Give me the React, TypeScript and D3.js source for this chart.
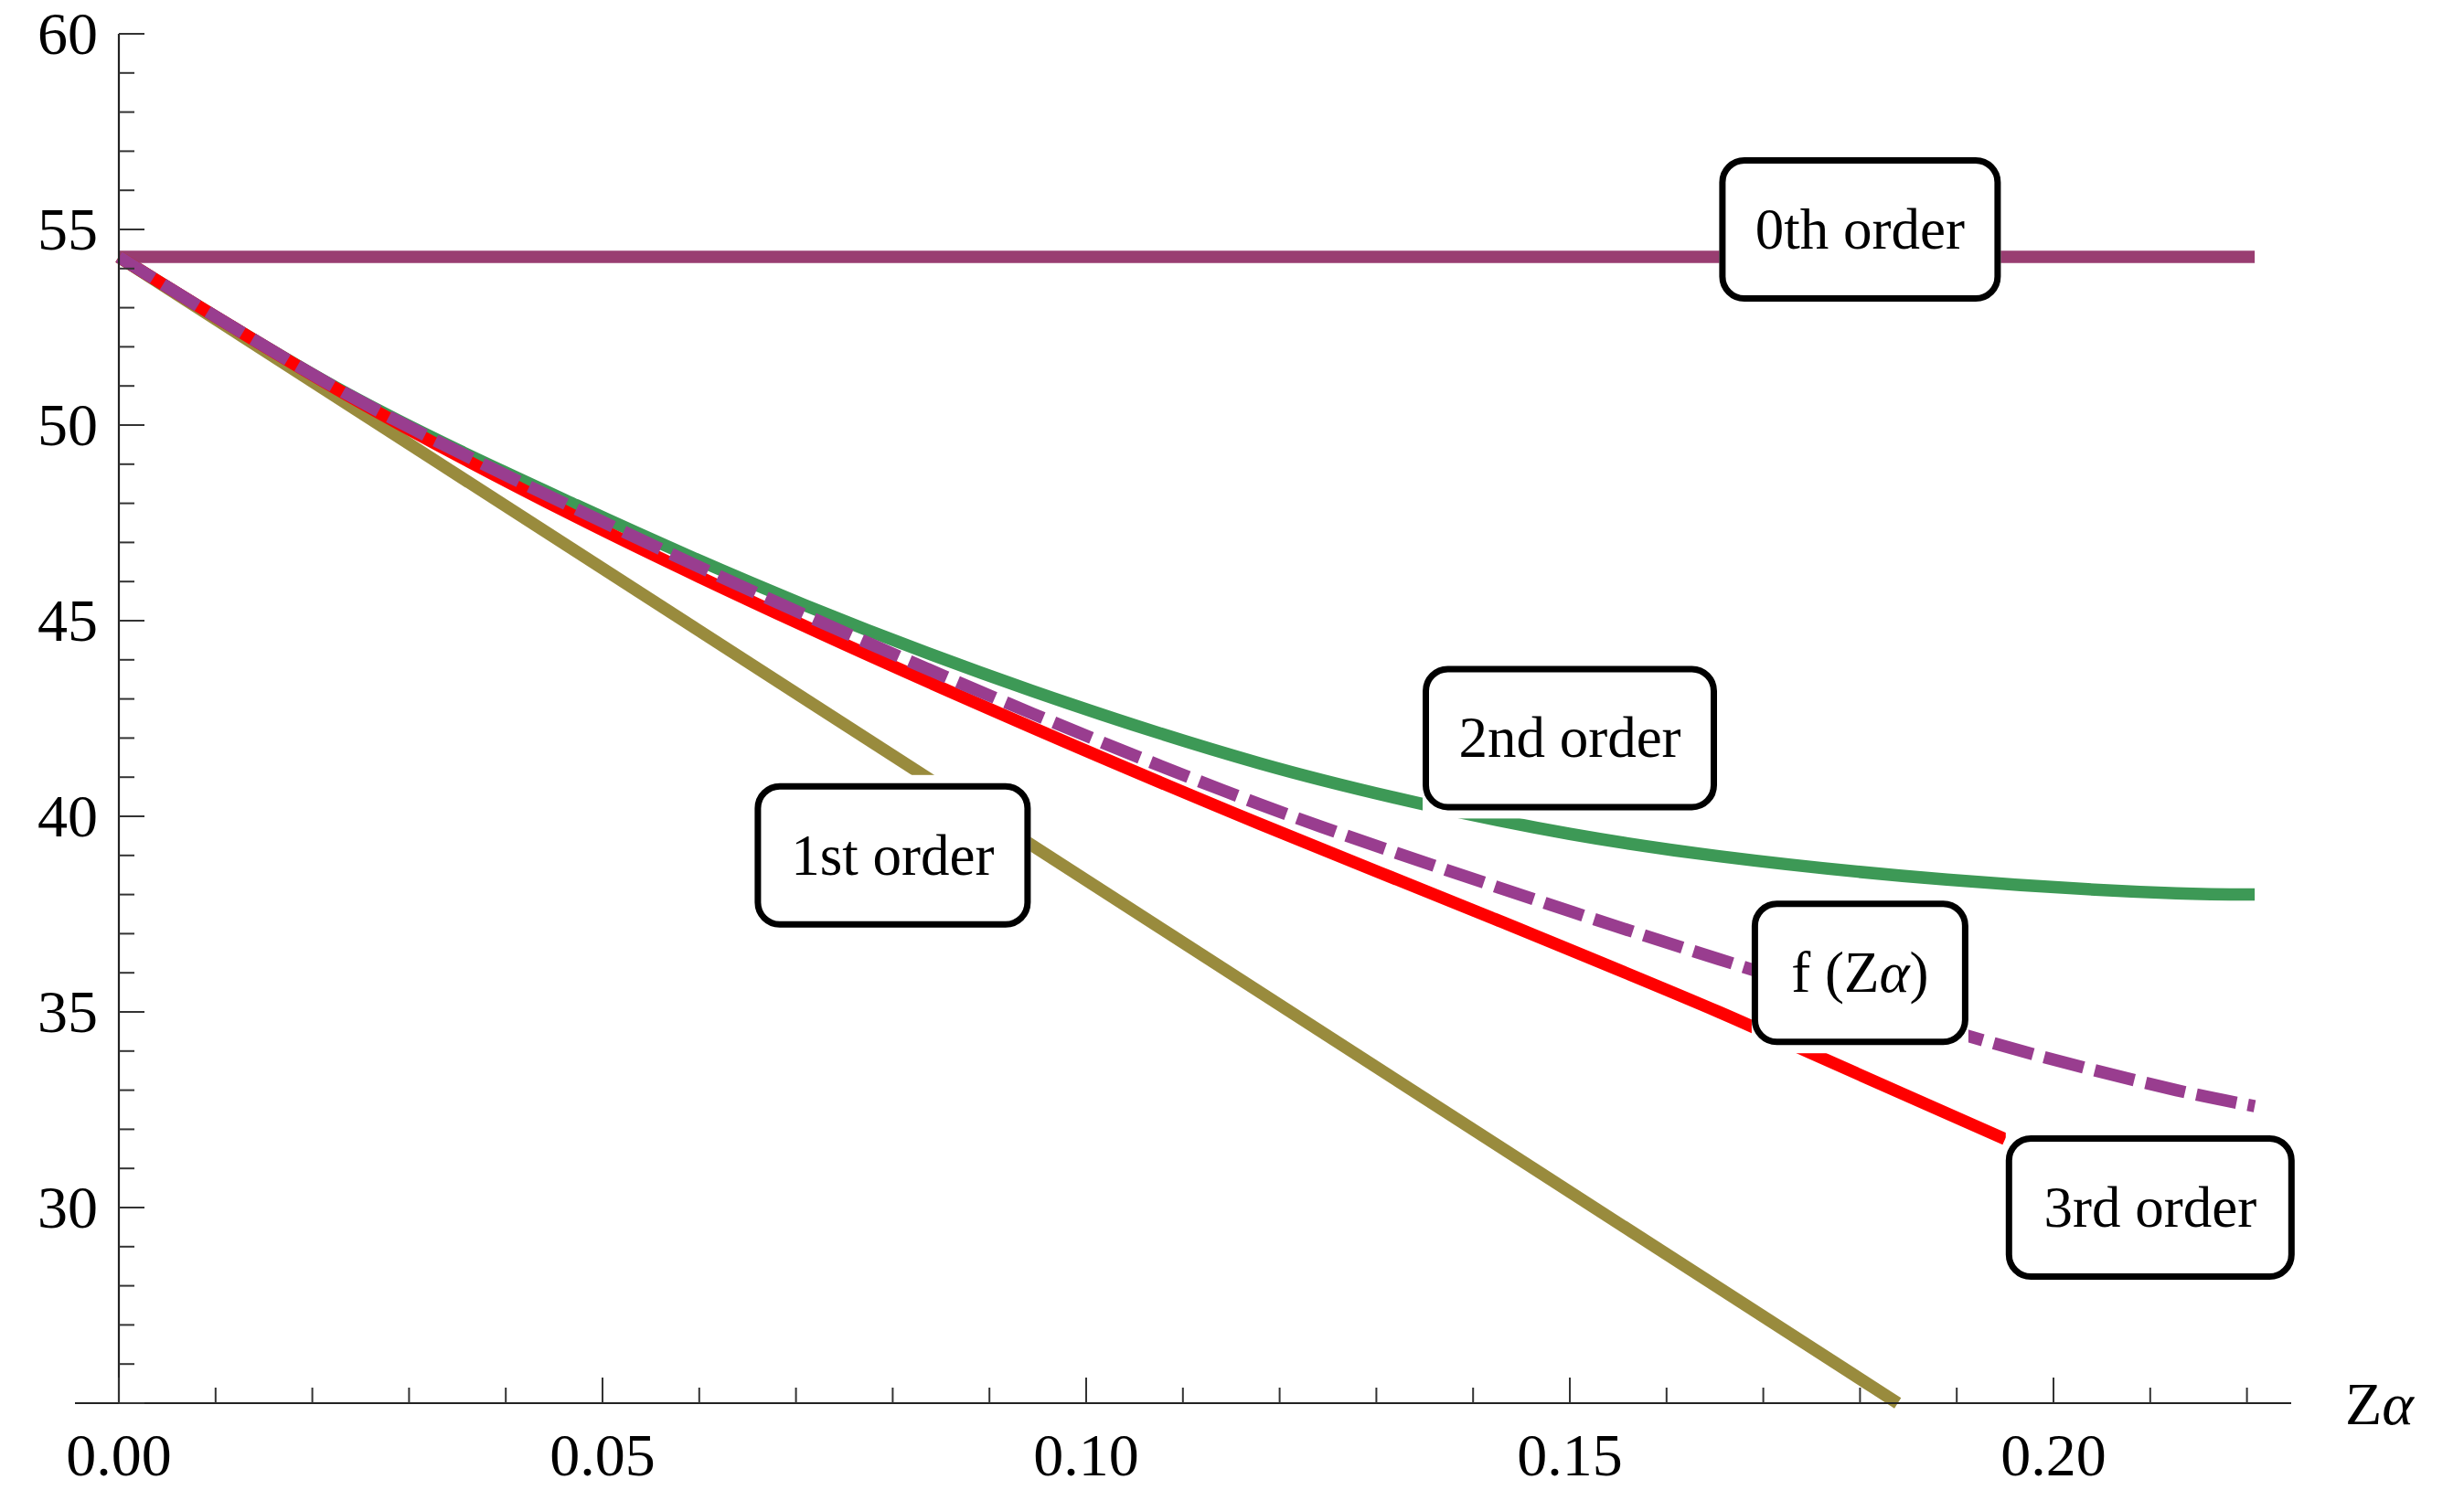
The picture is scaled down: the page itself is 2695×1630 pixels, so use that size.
import React from "react";
import * as d3 from "d3";

// ---- data ----
const zerothOrder: [number, number][] = [[0, 54.3], [0.2208, 54.3]];
const firstOrder: [number, number][] = [[0, 54.3], [0.1839, 25.0]];
const secondOrder: [number, number][] = [
  [0, 54.3], [0.0236, 50.8], [0.0473, 47.95], [0.0709, 45.4], [0.0945, 43.2],
  [0.118, 41.35], [0.135, 40.3], [0.15, 39.55], [0.1654, 38.98], [0.189, 38.38],
  [0.2127, 38.03], [0.2208, 38.0],
];
const thirdOrder: [number, number][] = [
  [0, 54.3], [0.0236, 50.77], [0.0473, 47.65], [0.0709, 44.86], [0.0945, 42.26],
  [0.118, 39.8], [0.1418, 37.42], [0.1654, 35.0], [0.1749, 33.95], [0.195, 31.75],
];
const exactF: [number, number][] = [
  [0, 54.3], [0.0236, 50.79], [0.0473, 47.85], [0.0709, 45.15], [0.0945, 42.62],
  [0.118, 40.3], [0.1418, 38.25], [0.1654, 36.35], [0.1938, 34.2], [0.2127, 33.0],
  [0.2208, 32.59],
];

const xMajorTicks = [0, 0.05, 0.1, 0.15, 0.2];
const xTickLabels = ["0.00", "0.05", "0.10", "0.15", "0.20"];
const yMajorTicks = [25, 30, 35, 40, 45, 50, 55, 60];
const yTickLabels = ["", "30", "35", "40", "45", "50", "55", "60"];

// labels: text, anchor (data coords), box width
const labelTexts = ["0th order", "1st order", "2nd order", "f (Z\u03B1)", "3rd order"];
const labelAnchorX = [0.18, 0.08, 0.15, 0.18, 0.21];
const labelAnchorY = [55, 39, 42, 36, 30];
const labelWidths = [308, 302, 322, 237, 316];

const W = 2695;
const H = 1630;
const FONT = "'Liberation Serif', 'Times New Roman', serif";

export default function App() {
  const x = d3.scaleLinear().domain([0, 0.2]).range([130, 2246]);
  const y = d3.scaleLinear().domain([25, 60]).range([1535, 37]);

  const curve = d3
    .line<[number, number]>()
    .x((d) => x(d[0]))
    .y((d) => y(d[1]))
    .curve(d3.curveCatmullRom.alpha(0.5));
  const straight = d3
    .line<[number, number]>()
    .x((d) => x(d[0]))
    .y((d) => y(d[1]));

  const series = [
    { d: straight(zerothOrder), color: "#993D71", dash: undefined },
    { d: straight(firstOrder), color: "#998B3D", dash: undefined },
    { d: curve(secondOrder), color: "#3D9956", dash: undefined },
    { d: curve(thirdOrder), color: "#FF0000", dash: undefined },
    { d: curve(exactF), color: "#993D8F", dash: "44.5 12.7" },
  ];

  const xAxisY = y(25);
  const yAxisX = x(0);
  const minorX = d3.range(0, 23).map((i) => i / 100);
  const minorY = d3.range(25, 61);

  const boxH = 158;
  const bw = 7;

  return (
    <svg
      width={W}
      height={H}
      style={{ position: "absolute", left: 0, top: 0, display: "block", background: "#fff" }}
      fontFamily={FONT}
    >
      <rect x={0} y={0} width={W} height={H} fill="#fff" />

      {/* lines */}
      {series.map((s, i) => (
        <path
          key={i}
          d={s.d || ""}
          fill="none"
          stroke={s.color}
          strokeWidth={13.5}
          strokeDasharray={s.dash}
          strokeLinecap="butt"
          strokeLinejoin="round"
        />
      ))}

      {/* axes */}
      <line x1={82} x2={2506} y1={xAxisY} y2={xAxisY} stroke="#222" strokeWidth={2.2} />
      <line x1={yAxisX} x2={yAxisX} y1={y(60)} y2={xAxisY} stroke="#222" strokeWidth={2.2} />
      {minorX.map((v, i) => {
        const major = i % 5 === 0;
        return (
          <line
            key={"xt" + i}
            x1={x(v)}
            x2={x(v)}
            y1={xAxisY}
            y2={xAxisY - (major ? 28 : 17)}
            stroke="#333"
            strokeWidth={2}
          />
        );
      })}
      {minorY.map((v, i) => {
        const major = (v - 25) % 5 === 0;
        return (
          <line
            key={"yt" + i}
            x1={yAxisX}
            x2={yAxisX + (major ? 28 : 17)}
            y1={y(v)}
            y2={y(v)}
            stroke="#333"
            strokeWidth={2}
          />
        );
      })}
      {xMajorTicks.map((v, i) => (
        <text key={"xl" + i} x={x(v)} y={1614} fontSize={66} textAnchor="middle" fill="#000">
          {xTickLabels[i]}
        </text>
      ))}
      {yMajorTicks.map((v, i) => (
        <text key={"yl" + i} x={107} y={y(v) + 22} fontSize={66} textAnchor="end" fill="#000">
          {yTickLabels[i]}
        </text>
      ))}
      <text x={2565} y={1558} fontSize={66} fill="#000">
        Z<tspan fontStyle="italic">{"\u03B1"}</tspan>
      </text>

      {/* label masks */}
      {labelTexts.map((t, i) => {
        const cx = x(labelAnchorX[i]);
        const cy = y(labelAnchorY[i]);
        const w = labelWidths[i];
        return (
          <rect
            key={"m" + i}
            x={cx - w / 2}
            y={cy - boxH / 2 - 9}
            width={w}
            height={boxH + 18}
            fill="#fff"
          />
        );
      })}

      {/* label boxes */}
      {labelTexts.map((t, i) => {
        const cx = x(labelAnchorX[i]);
        const cy = y(labelAnchorY[i]);
        const w = labelWidths[i];
        const isF = t.startsWith("f ");
        return (
          <g key={"b" + i}>
            <rect
              x={cx - w / 2 + bw / 2}
              y={cy - boxH / 2 + bw / 2}
              width={w - bw}
              height={boxH - bw}
              rx={24}
              ry={24}
              fill="#fff"
              stroke="#000"
              strokeWidth={bw}
            />
            <text x={cx} y={cy + 21} fontSize={63} textAnchor="middle" fill="#000">
              {isF ? (
                <>
                  {"f (Z"}
                  <tspan fontStyle="italic">{"\u03B1"}</tspan>
                  {")"}
                </>
              ) : (
                t
              )}
            </text>
          </g>
        );
      })}
    </svg>
  );
}
